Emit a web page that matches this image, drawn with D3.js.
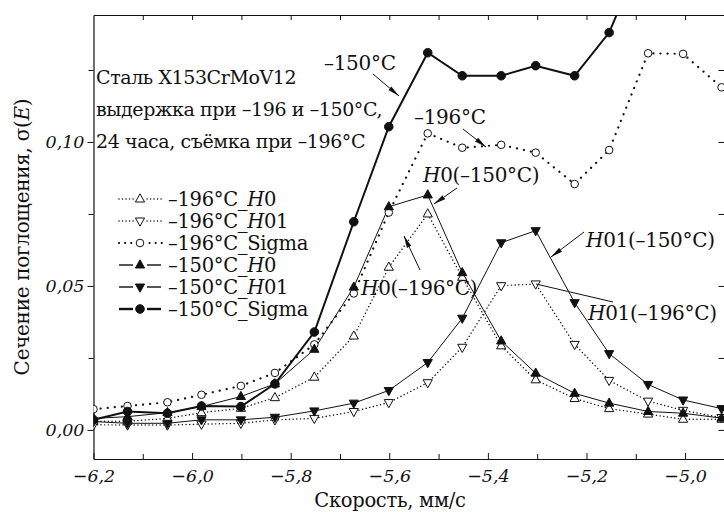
<!DOCTYPE html>
<html lang="ru">
<head>
<meta charset="UTF-8">
<title>Сечение поглощения</title>
<script src="https://d3js.org/d3.v7.min.js"></script>
<style>
  body { margin: 0; background: #fff; }
  svg { display: block; }
  text { font-family: "DejaVu Serif", "Liberation Serif", serif; fill: #111; }
  .tick text { font-style: italic; font-size: 17.5px; }
</style>
</head>
<body>
<svg id="chart" width="724" height="512"></svg>
<script>
// velocities (mm/s)
const velocity = [-6.200, -6.131, -6.050, -5.981, -5.901, -5.832, -5.752, -5.672, -5.601,
                  -5.522, -5.452, -5.373, -5.303, -5.224, -5.154, -5.075, -5.004, -4.926];

const h0_196    = [0.0030, 0.0030, 0.0040, 0.0060, 0.0075, 0.0112, 0.0183, 0.0326, 0.0565,
                   0.0750, 0.0530, 0.0292, 0.0174, 0.0109, 0.0074, 0.0055, 0.0037, 0.0037];
const h01_196   = [0.0018, 0.0017, 0.0017, 0.0020, 0.0023, 0.0035, 0.0040, 0.0064, 0.0095,
                   0.0164, 0.0287, 0.0501, 0.0507, 0.0297, 0.0172, 0.0100, 0.0068, 0.0043];
const sigma_196 = [0.0072, 0.0083, 0.0096, 0.0122, 0.0153, 0.0198, 0.0297, 0.0474, 0.0755,
                   0.1030, 0.0980, 0.0990, 0.0963, 0.0854, 0.0972, 0.1308, 0.1306, 0.1190];
const h0_150    = [0.0040, 0.0046, 0.0060, 0.0081, 0.0116, 0.0160, 0.0280, 0.0496, 0.0775,
                   0.0816, 0.0546, 0.0309, 0.0197, 0.0127, 0.0093, 0.0064, 0.0058, 0.0041];
const h01_150   = [0.0029, 0.0023, 0.0023, 0.0035, 0.0035, 0.0044, 0.0066, 0.0093, 0.0137,
                   0.0234, 0.0388, 0.0650, 0.0692, 0.0442, 0.0265, 0.0158, 0.0104, 0.0074];
// last point lies above the frame and is clipped
const sigma_150 = [0.0035, 0.0064, 0.0058, 0.0083, 0.0081, 0.0160, 0.0340, 0.0723, 0.1053,
                   0.1310, 0.1230, 0.1230, 0.1265, 0.1230, 0.1380, 0.1700];

const xTicks = [-6.2, -6.0, -5.8, -5.6, -5.4, -5.2, -5.0];
const yTicks = [0, 0.05, 0.10];

const series = [
  {name: "–196°C_", it: "H", rest: "0",     values: h0_196,    marker: "triUp",   fill: false, dash: "0.1 3.6", width: 1.4},
  {name: "–196°C_", it: "H", rest: "01",    values: h01_196,   marker: "triDown", fill: false, dash: "0.1 3.6", width: 1.4},
  {name: "–196°C_", it: "",  rest: "Sigma", values: sigma_196, marker: "circle",  fill: false, dash: "0.1 7",   width: 2.2},
  {name: "–150°C_", it: "H", rest: "0",     values: h0_150,    marker: "triUp",   fill: true,  dash: null,      width: 1},
  {name: "–150°C_", it: "H", rest: "01",    values: h01_150,   marker: "triDown", fill: true,  dash: null,      width: 1},
  {name: "–150°C_", it: "",  rest: "Sigma", values: sigma_150, marker: "circle",  fill: true,  dash: null,      width: 2}
];

const svg = d3.select("#chart");
const mLeft = 93.5, mRight = 724.5, mTop = 15, mBottom = 459;

const x = d3.scaleLinear().domain([-6.2, -4.92]).range([mLeft, mRight]);
const y = d3.scaleLinear().domain([-0.0101, 0.1441]).range([mBottom, mTop]);
const fmt = d => d3.format(".2f")(d).replace(".", ",");
const fmtX = d => d3.format(".1f")(d).replace(".", ",").replace("-", "−");

const defs = svg.append("defs");
defs.append("clipPath").attr("id", "clip")
  .append("rect").attr("x", mLeft).attr("y", mTop).attr("width", mRight - mLeft).attr("height", mBottom - mTop);
defs.append("marker").attr("id", "arrow")
  .attr("viewBox", "0 0 12 6").attr("refX", 12).attr("refY", 3)
  .attr("markerWidth", 12).attr("markerHeight", 6).attr("markerUnits", "userSpaceOnUse")
  .attr("orient", "auto")
  .append("path").attr("d", "M0,0.6 L12,3 L0,5.4 Z").attr("fill", "#111");

// axes
svg.append("g").attr("transform", `translate(0,${mBottom})`)
  .call(d3.axisBottom(x).tickValues(xTicks).tickFormat(fmtX).tickSizeInner(-6).tickSizeOuter(0).tickPadding(11))
  .call(g => g.select(".domain").attr("stroke", "#111").attr("stroke-width", 1.2));
svg.append("g").attr("transform", `translate(0,${mBottom})`)
  .call(d3.axisBottom(x).tickValues(d3.range(-6.1, -4.9, 0.2)).tickFormat("").tickSizeInner(-5).tickSizeOuter(0))
  .call(g => g.select(".domain").remove());
svg.append("g").attr("transform", `translate(0,${mTop})`)
  .call(d3.axisTop(x).tickValues(d3.range(-6.1, -4.9, 0.1)).tickFormat("").tickSizeInner(-5).tickSizeOuter(0))
  .call(g => g.select(".domain").attr("stroke", "#111").attr("stroke-width", 1.2));
svg.append("g").attr("transform", `translate(${mLeft},0)`)
  .call(d3.axisLeft(y).tickValues(yTicks).tickFormat(fmt).tickSizeInner(6).tickSizeOuter(0).tickPadding(3))
  .call(g => g.select(".domain").attr("stroke", "#111").attr("stroke-width", 1.2));
svg.append("g").attr("transform", `translate(${mLeft},0)`)
  .call(d3.axisLeft(y).tickValues([0.025, 0.075, 0.125]).tickFormat("").tickSizeInner(5).tickSizeOuter(0))
  .call(g => g.select(".domain").remove());
svg.append("g").attr("transform", `translate(${mRight},0)`)
  .call(d3.axisRight(y).tickValues([0, 0.025, 0.05, 0.075, 0.10, 0.125]).tickFormat("").tickSizeInner(-6).tickSizeOuter(0))
  .call(g => g.select(".domain").attr("stroke", "#111"));
svg.selectAll(".tick line").attr("stroke", "#111");

// axis titles
svg.append("text").attr("x", 390).attr("y", 507).attr("text-anchor", "middle")
  .attr("font-size", 19.5).attr("letter-spacing", -0.3).text("Скорость, мм/с");
const yl = svg.append("text").attr("transform", "translate(29,237) rotate(-90)")
  .attr("text-anchor", "middle").attr("font-size", 20).attr("letter-spacing", -0.3);
yl.append("tspan").text("Сечение поглощения, σ(");
yl.append("tspan").attr("font-style", "italic").text("E");
yl.append("tspan").text(")");

// markers
const triUp = "M0,-5.2 L4.6,3 L-4.6,3 Z";
const triDown = "M0,5.2 L4.6,-3 L-4.6,-3 Z";
function drawMarker(g, s, cx, cy) {
  if (s.marker === "circle") {
    g.append("circle").attr("cx", cx).attr("cy", cy).attr("r", s.fill ? 4.3 : 3.8)
      .attr("fill", s.fill ? "#111" : "#fff").attr("stroke", "#111").attr("stroke-width", 1);
  } else {
    g.append("path").attr("d", s.marker === "triUp" ? triUp : triDown)
      .attr("transform", `translate(${cx},${cy})`)
      .attr("fill", s.fill ? "#111" : "#fff").attr("stroke", "#111").attr("stroke-width", 1);
  }
}

const plot = svg.append("g").attr("clip-path", "url(#clip)");
const line = d3.line().x(d => x(d[0])).y(d => y(d[1]));
series.forEach(s => {
  const pts = s.values.map((v, i) => [velocity[i], v]);
  plot.append("path").datum(pts).attr("d", line).attr("fill", "none")
    .attr("stroke", "#111").attr("stroke-width", s.width)
    .attr("stroke-linecap", "round")
    .attr("stroke-dasharray", s.dash);
});
series.forEach(s => {
  const g = plot.append("g");
  s.values.forEach((v, i) => drawMarker(g, s, x(velocity[i]), y(v)));
});

// legend
const legend = svg.append("g");
series.forEach((s, i) => {
  const ly = 199 + i * 22;
  const g = legend.append("g");
  if (s.dash) {
    g.append("line").attr("x1", 119).attr("x2", 162).attr("y1", ly).attr("y2", ly)
      .attr("stroke", "#111").attr("stroke-width", s.width).attr("stroke-linecap", "round")
      .attr("stroke-dasharray", s.marker === "circle" ? "0.1 6" : "0.1 3.4");
    g.append("rect").attr("x", 134).attr("y", ly - 7).attr("width", 12).attr("height", 14).attr("fill", "#fff");
  } else {
    [[119, 133], [147, 161]].forEach(([a, b]) => g.append("line").attr("x1", a).attr("x2", b)
      .attr("y1", ly).attr("y2", ly).attr("stroke", "#111").attr("stroke-width", s.width + 0.4));
  }
  drawMarker(g, s, 140, ly);
  const t = g.append("text").attr("x", 168).attr("y", ly + 7).attr("font-size", 19.5).attr("letter-spacing", -0.3);
  t.append("tspan").text(s.name);
  if (s.it) t.append("tspan").attr("font-style", "italic").text(s.it);
  t.append("tspan").text(s.rest);
});

// description text
const desc = ["Сталь X153CrMoV12", "выдержка при –196 и –150°C,", "24 часа, съёмка при –196°C"];
desc.forEach((d, i) => svg.append("text").attr("x", 96).attr("y", 84 + i * 32)
  .attr("font-size", 19).attr("letter-spacing", -0.4).text(d));

// annotations
function label(xp, yp, parts) {
  const t = svg.append("text").attr("x", xp).attr("y", yp).attr("font-size", 20).attr("letter-spacing", -0.3);
  parts.forEach(p => t.append("tspan").attr("font-style", p[1] ? "italic" : null).text(p[0]));
}
function arrow(x1, y1, x2, y2, head) {
  svg.append("line").attr("x1", x1).attr("y1", y1).attr("x2", x2).attr("y2", y2)
    .attr("stroke", "#111").attr("stroke-width", 1)
    .attr("marker-end", head === false ? null : "url(#arrow)");
}
label(324, 70, [["–150°C"]]);
arrow(373, 74, 399, 96);
label(414, 124, [["–196°C"]]);
arrow(463, 129, 486, 147);
label(423, 182, [["H", 1], ["0(–150°C)"]]);
arrow(457, 188, 434, 204);
label(361, 295, [["H", 1], ["0(–196°C)"]]);
arrow(420, 270, 404, 236);
label(586, 247, [["H", 1], ["01(–150°C)"]]);
arrow(584, 232, 551, 257);
label(588, 320, [["H", 1], ["01(–196°C)"]]);
arrow(536, 284, 613, 302, false);
</script>
</body>
</html>
